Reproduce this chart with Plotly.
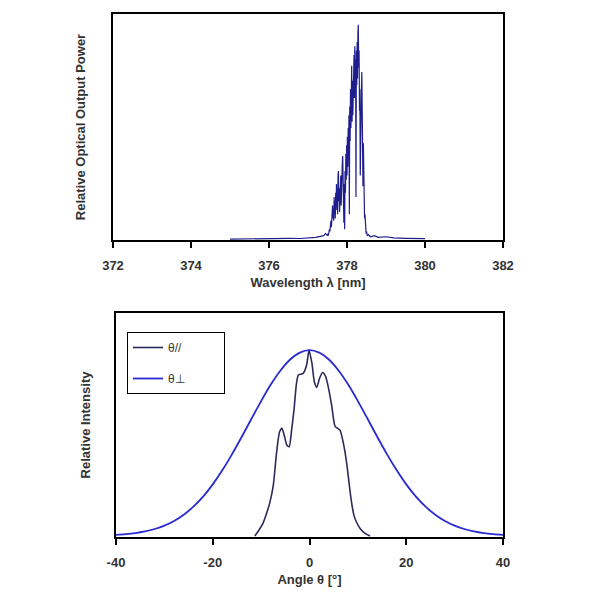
import plotly.graph_objects as go

# ---- Top panel: emission spectrum ----
wavelength_nm = [375.0, 375.5, 376.0, 376.5, 376.8, 377.0, 377.2, 377.4, 377.45,
    377.50, 377.51, 377.52, 377.53, 377.54, 377.55, 377.56, 377.57, 377.58, 377.59,
    377.60, 377.61, 377.62, 377.63, 377.64, 377.65, 377.66, 377.67, 377.68, 377.69,
    377.70, 377.71, 377.72, 377.73, 377.74, 377.75, 377.76, 377.77, 377.78, 377.79,
    377.80, 377.81, 377.82, 377.83, 377.84, 377.85, 377.86, 377.87, 377.88, 377.89,
    377.90, 377.91, 377.92, 377.93, 377.94, 377.95, 377.96, 377.97, 377.98, 377.99,
    378.00, 378.01, 378.02, 378.03, 378.04, 378.05, 378.06, 378.07, 378.08, 378.09,
    378.10, 378.11, 378.12, 378.13, 378.14, 378.15, 378.16, 378.17, 378.18, 378.19,
    378.20, 378.21, 378.22, 378.23, 378.24, 378.25, 378.26, 378.27, 378.28, 378.29,
    378.30, 378.31, 378.32, 378.33, 378.34, 378.35, 378.36, 378.37, 378.38, 378.39,
    378.40, 378.41, 378.42, 378.43, 378.44, 378.45, 378.46, 378.47, 378.48, 378.49,
    378.50, 378.52, 378.55, 378.6, 378.7, 378.8, 379.0, 379.2, 379.5, 380.0]
output_power = [0.004, 0.006, 0.005, 0.008, 0.007, 0.010, 0.012, 0.020, 0.030,
    0.02, 0.03, 0.02, 0.04, 0.03, 0.05, 0.04, 0.07, 0.05, 0.09,
    0.06, 0.12, 0.08, 0.16, 0.10, 0.14, 0.09, 0.20, 0.12, 0.18,
    0.10, 0.22, 0.14, 0.26, 0.15, 0.21, 0.12, 0.30, 0.32, 0.18,
    0.24, 0.13, 0.28, 0.20, 0.30, 0.16, 0.34, 0.22, 0.36, 0.39,
    0.24, 0.30, 0.08, 0.26, 0.05, 0.32, 0.22, 0.40, 0.28, 0.44,
    0.30, 0.48, 0.34, 0.52, 0.40, 0.58, 0.12, 0.62, 0.46, 0.70,
    0.52, 0.66, 0.81, 0.55, 0.74, 0.58, 0.80, 0.62, 0.86, 0.66,
    0.90, 0.70, 0.84, 0.20, 0.88, 0.72, 0.92, 0.75, 0.96, 1.00,
    0.80, 0.88, 0.60, 0.70, 0.30, 0.62, 0.45, 0.70, 0.78, 0.40,
    0.55, 0.25, 0.45, 0.18, 0.30, 0.10, 0.12, 0.05, 0.06, 0.03,
    0.04, 0.02, 0.025, 0.015, 0.020, 0.012, 0.015, 0.010, 0.008, 0.006]

# ---- Bottom panel: far-field patterns ----
theta_par = [-11.3, -10.5, -9.6, -8.9, -8.2, -7.5, -6.8, -6.2, -5.7, -5.2, -4.7, -4.2,
    -3.7, -3.2, -2.7, -2.3, -1.3, -0.6, -0.1, 0.5, 1.0, 1.5, 2.1, 2.7, 3.3, 3.9,
    4.6, 5.3, 6.3, 7.0, 7.7, 8.2, 8.7, 9.2, 9.75, 10.5, 11.5, 12.5]
intensity_par = [0.0, 0.03, 0.07, 0.12, 0.18, 0.27, 0.45, 0.56, 0.58, 0.54, 0.49, 0.48,
    0.57, 0.68, 0.82, 0.866, 0.875, 0.92, 1.0, 0.93, 0.83, 0.80, 0.85, 0.88, 0.86, 0.80,
    0.70, 0.59, 0.57, 0.50, 0.39, 0.28, 0.18, 0.11, 0.073, 0.04, 0.015, 0.0]

theta_perp = [-40, -38, -36, -34, -32, -30, -28, -26, -24, -22, -20, -18, -16, -14, -12,
    -10, -8, -6, -4, -2, 0, 2, 4, 6, 8, 10, 12, 14, 16, 18, 20, 22, 24, 26, 28, 30,
    32, 34, 36, 38, 40]
intensity_perp = [0.006, 0.010, 0.016, 0.025, 0.038, 0.056, 0.081, 0.115, 0.158, 0.212,
    0.278, 0.355, 0.441, 0.534, 0.631, 0.726, 0.815, 0.891, 0.950, 0.987, 1.0,
    0.987, 0.950, 0.891, 0.815, 0.726, 0.631, 0.534, 0.441, 0.355, 0.278, 0.212,
    0.158, 0.115, 0.081, 0.056, 0.038, 0.025, 0.016, 0.010, 0.006]

top_ticks = [372, 374, 376, 378, 380, 382]
top_tick_labels = ["372", "374", "376", "378", "380", "382"]
bottom_ticks = [-40, -20, 0, 20, 40]
bottom_tick_labels = ["-40", "-20", "0", "20", "40"]

FONT = "Liberation Sans, Arial, sans-serif"
TXT = "#333333"

# page body has an 8px margin; convert window pixels to paper fractions
OFF = 8
def xf(px):
    return (px - OFF) / 600
def yf(py):
    return 1 - (py - OFF) / 600

fig = go.Figure()
fig.add_trace(go.Scatter(x=wavelength_nm, y=output_power, mode="lines",
                         line=dict(color="#1e1e8c", width=1.2), showlegend=False,
                         xaxis="x", yaxis="y"))
fig.add_trace(go.Scatter(x=theta_par, y=intensity_par, mode="lines",
                         name="θ//" + "\u00a0" * 11,
                         line=dict(color="#2a2a5c", width=1.6, shape="spline", smoothing=0.6),
                         xaxis="x2", yaxis="y2", legendgroup="a"))
fig.add_trace(go.Scatter(x=theta_perp, y=intensity_perp, mode="lines", name="θ⊥",
                         line=dict(color="#2a2ad2", width=1.8, shape="spline", smoothing=0.8),
                         xaxis="x2", yaxis="y2", legendgroup="b"))

axis_common = dict(showline=True, linecolor="black", linewidth=2, mirror=True,
                   showgrid=False, zeroline=False, automargin=False)
tickfont = dict(family=FONT, size=13, color=TXT, weight="bold")
titlefont = dict(family=FONT, size=13, color=TXT, weight="bold")

fig.update_layout(
    width=600, height=600, margin=dict(l=0, r=0, t=0, b=0),
    paper_bgcolor="white", plot_bgcolor="white",
    xaxis=dict(domain=[xf(113), xf(503)], range=[372, 382], tickvals=top_ticks,
               ticktext=top_tick_labels,
               ticks="outside", ticklen=6, tickwidth=1.5, tickcolor="black",
               tickfont=tickfont, ticklabelstandoff=6,
               title=dict(text="Wavelength λ [nm]", font=titlefont, standoff=6),
               anchor="y", **axis_common),
    yaxis=dict(domain=[yf(240), yf(14)], range=[0, 1.05], showticklabels=False,
               ticks="", title=dict(text="Relative Optical Output Power",
                                    font=titlefont, standoff=22),
               anchor="x", **axis_common),
    xaxis2=dict(domain=[xf(116), xf(503)], range=[-40, 40], tickvals=bottom_ticks,
                ticktext=bottom_tick_labels,
                ticks="outside", ticklen=6, tickwidth=1.5, tickcolor="black",
                tickfont=tickfont, ticklabelstandoff=6,
                title=dict(text="Angle θ [°]", font=titlefont, standoff=6),
                anchor="y2", **axis_common),
    yaxis2=dict(domain=[yf(537), yf(313)], range=[-0.005, 1.2], showticklabels=False,
                ticks="", title=dict(text="Relative Intensity", font=titlefont, standoff=20),
                anchor="x2", **axis_common),
    legend=dict(x=xf(127), y=yf(332), xanchor="left", yanchor="top",
                bordercolor="black", borderwidth=1, bgcolor="white",
                font=dict(family=FONT, size=12, color=TXT),
                tracegroupgap=12, itemwidth=30, traceorder="grouped"),
)

fig.write_html("out.html")
